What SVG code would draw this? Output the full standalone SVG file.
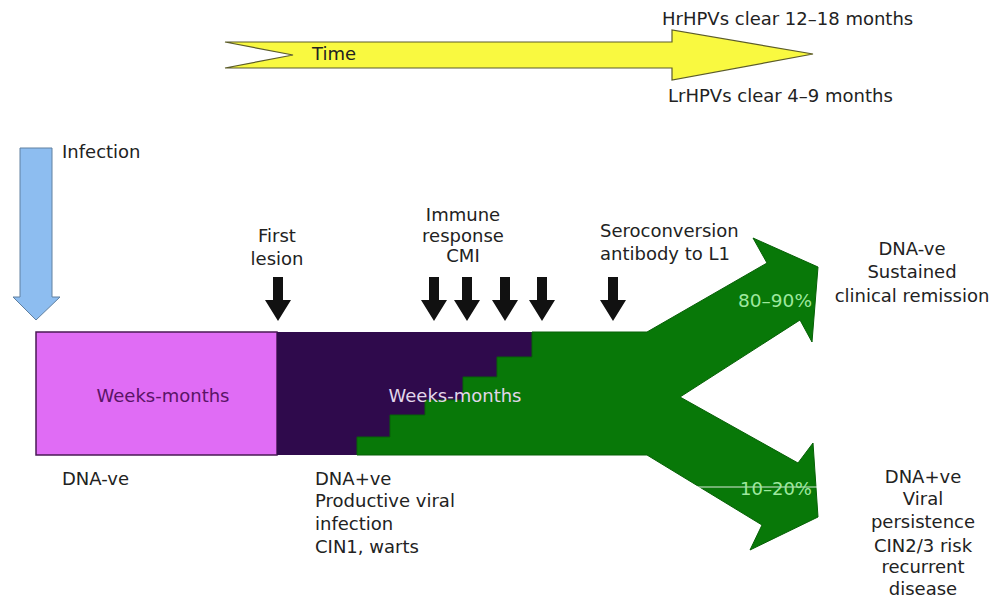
<svg xmlns="http://www.w3.org/2000/svg" width="996" height="600" viewBox="0 0 996 600">
  <defs>
    <style>
      text { font-family: "DejaVu Sans", "Liberation Sans", sans-serif; font-size: 18px; fill: #222; }
      .mid { text-anchor: middle; }
      .pct { font-size: 17px; fill: #9ee89e; }
      .down { fill: #111; }
    </style>
    <path id="downArrow" d="M-5,0 H5 V23 H13 L0,44 L-13,23 H-5 Z"/>
  </defs>
  <rect width="996" height="600" fill="#fff"/>

  <g id="time-arrow">
    <polygon points="225,42 672,42 672,30 813,54 672,80 672,68 225,68 293,55" fill="#f9f940" stroke="#5c5c2a" stroke-width="1.2"/>
    <text x="312" y="60">Time</text>
  </g>
  <g id="hr-label"><text x="662" y="25">HrHPVs clear 12–18 months</text></g>
  <g id="lr-label"><text x="668" y="102">LrHPVs clear 4–9 months</text></g>

  <g id="infection">
    <polygon points="20,148 52,148 52,297 60,297 36,320 13,297 20,297" fill="#8dbdf0" stroke="#6080a0" stroke-width="1"/>
    <text x="62" y="158">Infection</text>
  </g>

  <g id="stage-latent">
    <rect x="36" y="332" width="241" height="123" fill="#e06cf5" stroke="#4a1a55" stroke-width="1.5"/>
    <text class="mid" x="163" y="402" style="fill:#5a1466">Weeks-months</text>
    <text x="62" y="485">DNA-ve</text>
  </g>

  <g id="stage-productive">
    <polygon points="277,332 532,332 532,357 497,357 497,377 463,377 463,400 425,400 425,415 390,415 390,437 357,437 357,455 277,455" fill="#2f0a4c"/>
    <polygon points="532,332 647,332 767,263 753,238 818,267 812,342 800,320 680,397 798,463 813,443 818,517 750,550 762,525 647,455 357,455 357,437 390,437 390,415 425,415 425,400 463,400 463,377 497,377 497,357 532,357" fill="#087808" stroke="#066006" stroke-width="1"/>
    <text class="mid" x="455" y="402" style="fill:#e2d6ea">Weeks-months</text>
    <text x="315" y="485">DNA+ve</text>
    <text x="315" y="507">Productive viral</text>
    <text x="315" y="530">infection</text>
    <text x="315" y="553">CIN1, warts</text>
  </g>

  <g id="first-lesion">
    <text class="mid" x="277" y="242">First</text>
    <text class="mid" x="277" y="265">lesion</text>
  </g>
  <g id="immune-response">
    <text class="mid" x="463" y="221">Immune</text>
    <text class="mid" x="463" y="242">response</text>
    <text class="mid" x="463" y="262">CMI</text>
  </g>
  <g id="seroconversion">
    <text x="600" y="237">Seroconversion</text>
    <text x="600" y="260">antibody to L1</text>
  </g>

  <g id="outcome-remission">
    <text class="pct" x="738" y="307" textLength="74" lengthAdjust="spacingAndGlyphs">80–90%</text>
    <text class="mid" x="912" y="255">DNA-ve</text>
    <text class="mid" x="912" y="278">Sustained</text>
    <text class="mid" x="912" y="302">clinical remission</text>
  </g>
  <g id="outcome-persistence">
    <line x1="690" y1="487" x2="822" y2="487" stroke="#ffffff" stroke-width="1" opacity="0.85"/>
    <text class="pct" x="740" y="495" textLength="72" lengthAdjust="spacingAndGlyphs">10–20%</text>
    <text class="mid" x="923" y="483">DNA+ve</text>
    <text class="mid" x="923" y="505">Viral</text>
    <text class="mid" x="923" y="528">persistence</text>
    <text class="mid" x="923" y="552">CIN2/3 risk</text>
    <text class="mid" x="923" y="573">recurrent</text>
    <text class="mid" x="923" y="595">disease</text>
  </g>

  <g id="connectors" class="down">
    <use href="#downArrow" x="278" y="277"/>
    <use href="#downArrow" x="434" y="277"/>
    <use href="#downArrow" x="467" y="277"/>
    <use href="#downArrow" x="505" y="277"/>
    <use href="#downArrow" x="542" y="277"/>
    <use href="#downArrow" x="613" y="277"/>
  </g>
</svg>
